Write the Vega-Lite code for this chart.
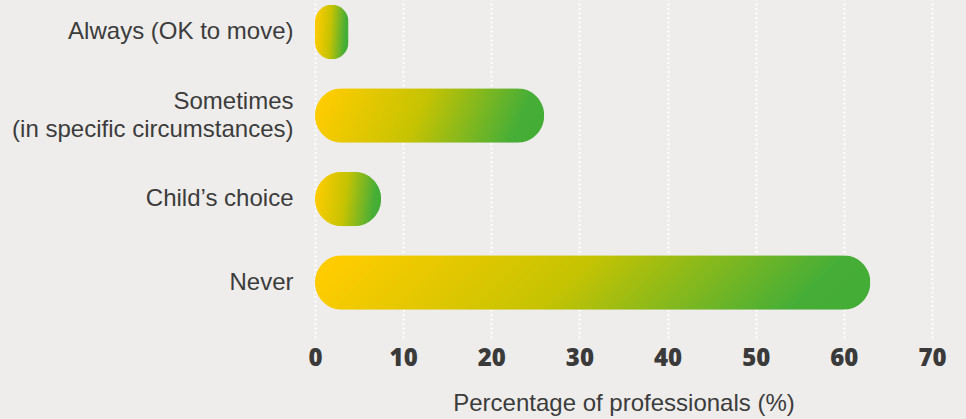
{
  "$schema": "https://vega.github.io/schema/vega-lite/v6.json",
  "width": 617,
  "height": 338,
  "autosize": {"type": "none"},
  "padding": {"left": 315, "top": 0, "right": 34, "bottom": 81},
  "background": "#EEEDEB",
  "config": {"view": {"stroke": null}},
  "data": {
    "values": [
      {"response": "Always (OK to move)", "pct": 3.8},
      {"response": "Sometimes|(in specific circumstances)", "pct": 26},
      {"response": "Child’s choice", "pct": 7.5},
      {"response": "Never", "pct": 63}
    ]
  },
  "mark": {
    "type": "bar",
    "cornerRadius": 27,
    "color": {
      "gradient": "linear",
      "x1": 0, "y1": 0.45, "x2": 1, "y2": 0.55,
      "stops": [
        {"offset": 0, "color": "#FFCC00"},
        {"offset": 0.45, "color": "#C6C302"},
        {"offset": 0.9, "color": "#46AE37"},
        {"offset": 1, "color": "#44AD36"}
      ]
    }
  },
  "encoding": {
    "y": {
      "field": "response",
      "type": "nominal",
      "sort": null,
      "scale": {"paddingInner": 0.347, "paddingOuter": 0.197, "align": 0.144},
      "axis": {
        "title": null,
        "ticks": false,
        "domain": false,
        "grid": false,
        "labelPadding": 22,
        "labelFont": "Liberation Sans",
        "labelFontSize": 24,
        "labelColor": "#3C3C3C",
        "labelLineHeight": 28,
        "labelLimit": 400,
        "labelExpr": "split(datum.label, '|')",
        "labelOffset": {
          "condition": {"test": "indexof(datum.value, '|') >= 0", "value": -14},
          "value": 0
        }
      }
    },
    "x": {
      "field": "pct",
      "type": "quantitative",
      "scale": {"domain": [0, 70], "nice": false},
      "axis": {
        "values": [0, 10, 20, 30, 40, 50, 60, 70],
        "title": "Percentage of professionals (%)",
        "titleFont": "Liberation Sans",
        "titleFontSize": 24,
        "titleFontWeight": "normal",
        "titleColor": "#3C3C3C",
        "titlePadding": 21,
        "ticks": false,
        "domain": false,
        "grid": true,
        "gridColor": "#FFFFFF",
        "gridWidth": 2,
        "gridDash": [2, 2.5],
        "labelFont": "Open Sans",
        "labelFontWeight": 800,
        "labelFontSize": 24,
        "labelColor": "#3A3A3A",
        "labelPadding": 8,
        "labelFlush": false
      }
    }
  }
}
